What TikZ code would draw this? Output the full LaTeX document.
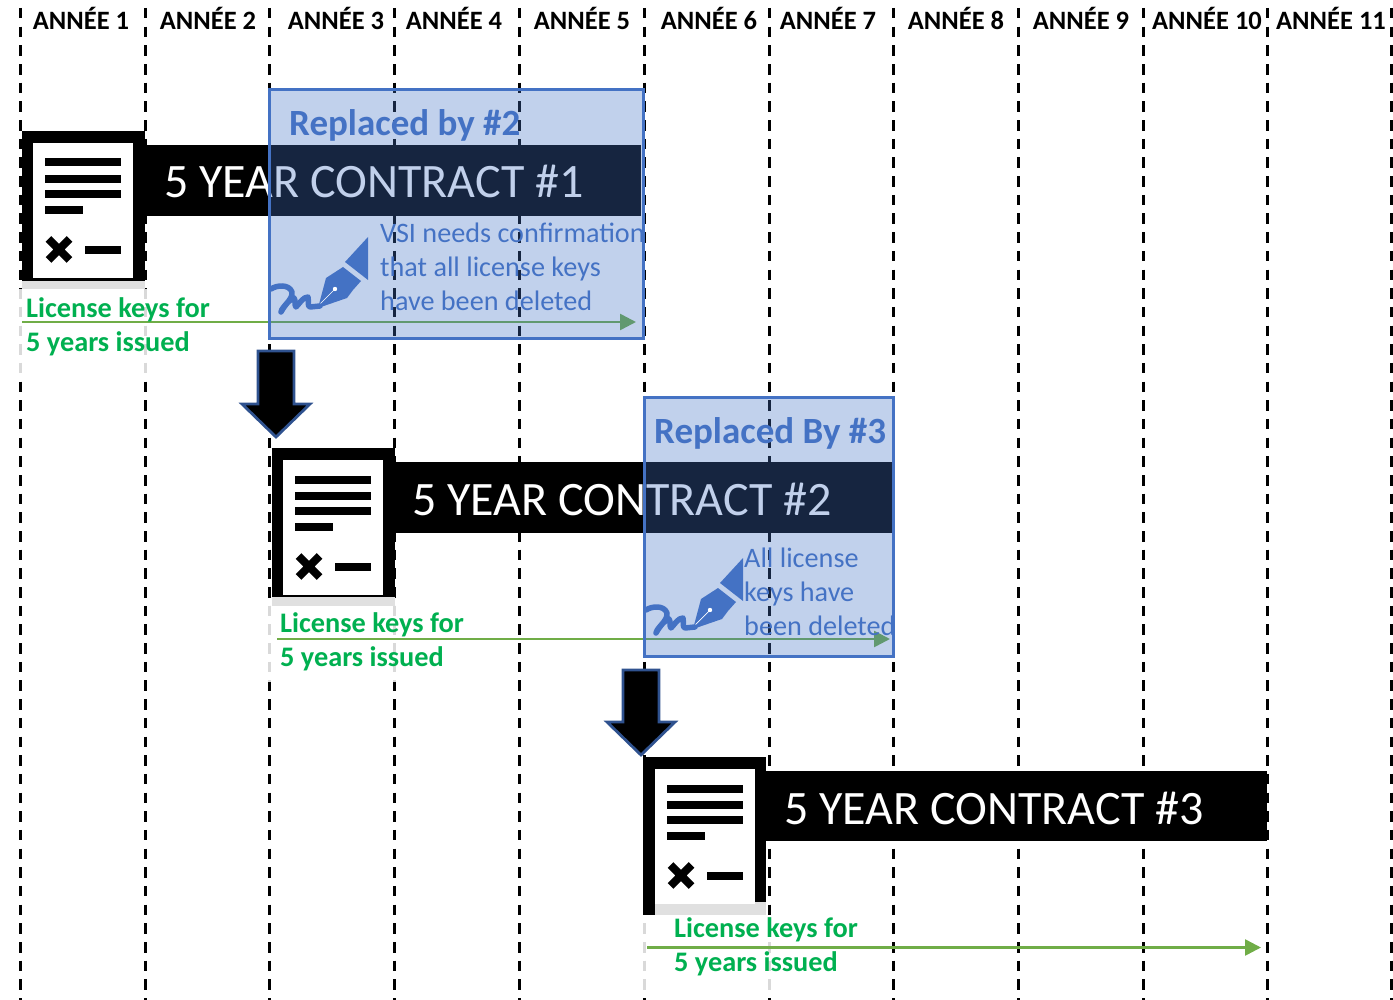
\documentclass[tikz,border=0pt]{standalone}
\usepackage{fontspec}
\setmainfont{Carlito}
\usetikzlibrary{arrows.meta}
\definecolor{vsiblue}{HTML}{4472C4}
\definecolor{keygreen}{HTML}{00B050}
\definecolor{arrowgreen}{HTML}{70AD47}
\definecolor{arrowedge}{HTML}{2F528F}
\tikzset{
  yearline/.style={black,line width=3pt,dash pattern=on 10.5pt off 8.18pt},
  yearlabel/.style={font=\fontsize{26.5}{26.5}\selectfont\bfseries,inner sep=0pt,anchor=base},
  contractbar/.style={fill=black,draw=none},
  contractlabel/.style={font=\fontsize{48}{48}\selectfont,text=white,inner sep=0pt,anchor=base west},
  overlaybox/.style={draw=vsiblue,line width=3pt,fill=vsiblue,fill opacity=.33,draw opacity=1},
  overlayhead/.style={font=\fontsize{37}{37}\selectfont\bfseries,text=vsiblue,inner sep=0pt,anchor=base west},
  overlaybody/.style={font=\fontsize{28.2}{28.2}\selectfont,text=vsiblue,inner sep=0pt,anchor=base west},
  keylabel/.style={font=\fontsize{28.3}{28.3}\selectfont\bfseries,text=keygreen,inner sep=0pt,anchor=base west},
  keyarrow/.style={draw=arrowgreen,line width=2.6pt,-{Triangle[length=16pt,width=16pt,fill=arrowgreen]}},
  nextarrow/.style={fill=black,draw=arrowedge,line width=2.8pt,line join=miter},
  veil/.style={fill=white,fill opacity=.85,draw=none},
  pics/docicon/.style={code={
    \fill[white] (11,12) rectangle (111,147);
    \fill[black] (23,27.5) rectangle (99,35.5);
    \fill[black] (23,44) rectangle (99,52);
    \fill[black] (23,59) rectangle (99,67);
    \fill[black] (23,75) rectangle (61,83);
    \fill[black] (63,115) rectangle (99,123);
    \draw[black,line width=8pt] (26.5,108) -- (47.5,129) (26.5,129) -- (47.5,108);
  }},
  pics/penicon/.style={code={
    \fill[vsiblue] (99,37) -- (99,80) -- (76,62) -- cycle;
    \fill[vsiblue] (74,67) -- (92,81) -- (84,90) -- (78,98) -- (49,108) -- (57,78) -- cycle;
    \draw[white,line width=.7pt] (51,104) -- (66,89);
    \fill[white] (66,89) circle (2.2pt);
    \draw[vsiblue,line width=5.5pt,line cap=round,line join=round]
      (2,89) .. controls (8,85) and (20,84) .. (23,92)
      .. controls (24,100) and (13,106) .. (12,112)
      .. controls (16,105) and (21,99) .. (25,98)
      .. controls (27,100) and (25,105) .. (27,107)
      .. controls (31,103) and (34,97) .. (39,97)
      .. controls (40,101) and (38,106) .. (41,107)
      -- (51,106);
  }}
}
\begin{document}
\begin{tikzpicture}[x=1pt,y=-1pt]
\useasboundingbox (0,0) rectangle (1393,1000);
\clip (0,0) rectangle (1393,1000);
% year separators
\foreach \n/\x in {a/20,b/145,c/269,d/394,e/519,f/644,g/769,h/893,i/1018,j/1143,k/1267,l/1391}{
  \coordinate (top\n) at (\x,-10.68);
  \coordinate (bot\n) at (\x,1002);
  \draw[yearline] (top\n) -- (bot\n);
}
% year labels
\foreach \n/\x/\t in {1/81/1,2/208/2,3/336/3,4/454/4,5/582/5,6/709/6,7/828/7,8/956/8,9/1081/9,10/1207/10,11/1331/11}{
  \node[yearlabel] (year\n) at (\x,30) {ANNÉE \t};
}
% veils under the key labels
\fill[veil] (18,289) rectangle (148,375);
\fill[veil] (268,606) rectangle (397,682);
\fill[veil] (642,915) rectangle (771,992);
% contract 1
\fill[contractbar] (145,145) rectangle (641,216);
\fill[black] (22,131) rectangle (145,281);
\fill[black!12] (22,281) rectangle (145,289);
\pic at (22,131) {docicon};
\node[contractlabel] (c1) at (164,198) {5 YEAR CONTRACT \#1};
% contract 2
\fill[contractbar] (395,462) rectangle (893,533);
\fill[black] (272,448) rectangle (395,597);
\fill[black!12] (272,597) rectangle (395,606);
\pic at (272,448) {docicon};
\node[contractlabel] (c2) at (412,515) {5 YEAR CONTRACT \#2};
% contract 3
\fill[contractbar] (766,771) rectangle (1267,841);
\fill[black] (643,757) rectangle (766,915);
\fill[black!12] (655,902) rectangle (766,915);
\pic at (644,757) {docicon};
\node[contractlabel] (c3) at (784,824) {5 YEAR CONTRACT \#3};
% key arrows
\coordinate (k1a) at (22,322); \coordinate (k1b) at (636,322);
\coordinate (k2a) at (277,639); \coordinate (k2b) at (890,639);
\coordinate (k3a) at (647,947.5); \coordinate (k3b) at (1261,947.5);
\draw[keyarrow] (k1a) -- (k1b);
\draw[keyarrow] (k2a) -- (k2b);
\draw[keyarrow] (k3a) -- (k3b);
% overlays
\draw[overlaybox] (269,90) rectangle (643,339);
\draw[overlaybox] (644,398) rectangle (893,656);
\node[overlayhead] (r1) at (289,136) {Replaced by \#2};
\node[overlayhead] (r2) at (654,443.5) {Replaced By \#3};
\pic at (269,200) {penicon};
\pic at (644,521) {penicon};
\node[overlaybody] (b1a) at (380,243) {VSI needs confirmation};
\node[overlaybody] (b1b) at (380,277) {that all license keys};
\node[overlaybody] (b1c) at (380,311) {have been deleted};
\node[overlaybody] (b2a) at (744,567) {All license};
\node[overlaybody] (b2b) at (744,601) {keys have};
\node[overlaybody] (b2c) at (744,635) {been deleted};
% key labels
\node[keylabel] (g1a) at (26,318) {License keys for};
\node[keylabel] (g1b) at (26,352) {5 years issued};
\node[keylabel] (g2a) at (280,632.5) {License keys for};
\node[keylabel] (g2b) at (280,666.5) {5 years issued};
\node[keylabel] (g3a) at (674,937.5) {License keys for};
\node[keylabel] (g3b) at (674,971.5) {5 years issued};
% arrows to the next contract
\draw[nextarrow] (258,351) -- (294,351) -- (294,404) -- (310,404) -- (276,437) -- (242,404) -- (258,404) -- cycle;
\draw[nextarrow] (623,670) -- (659,670) -- (659,722) -- (675,722) -- (641,755) -- (607,722) -- (623,722) -- cycle;
\end{tikzpicture}
\end{document}
